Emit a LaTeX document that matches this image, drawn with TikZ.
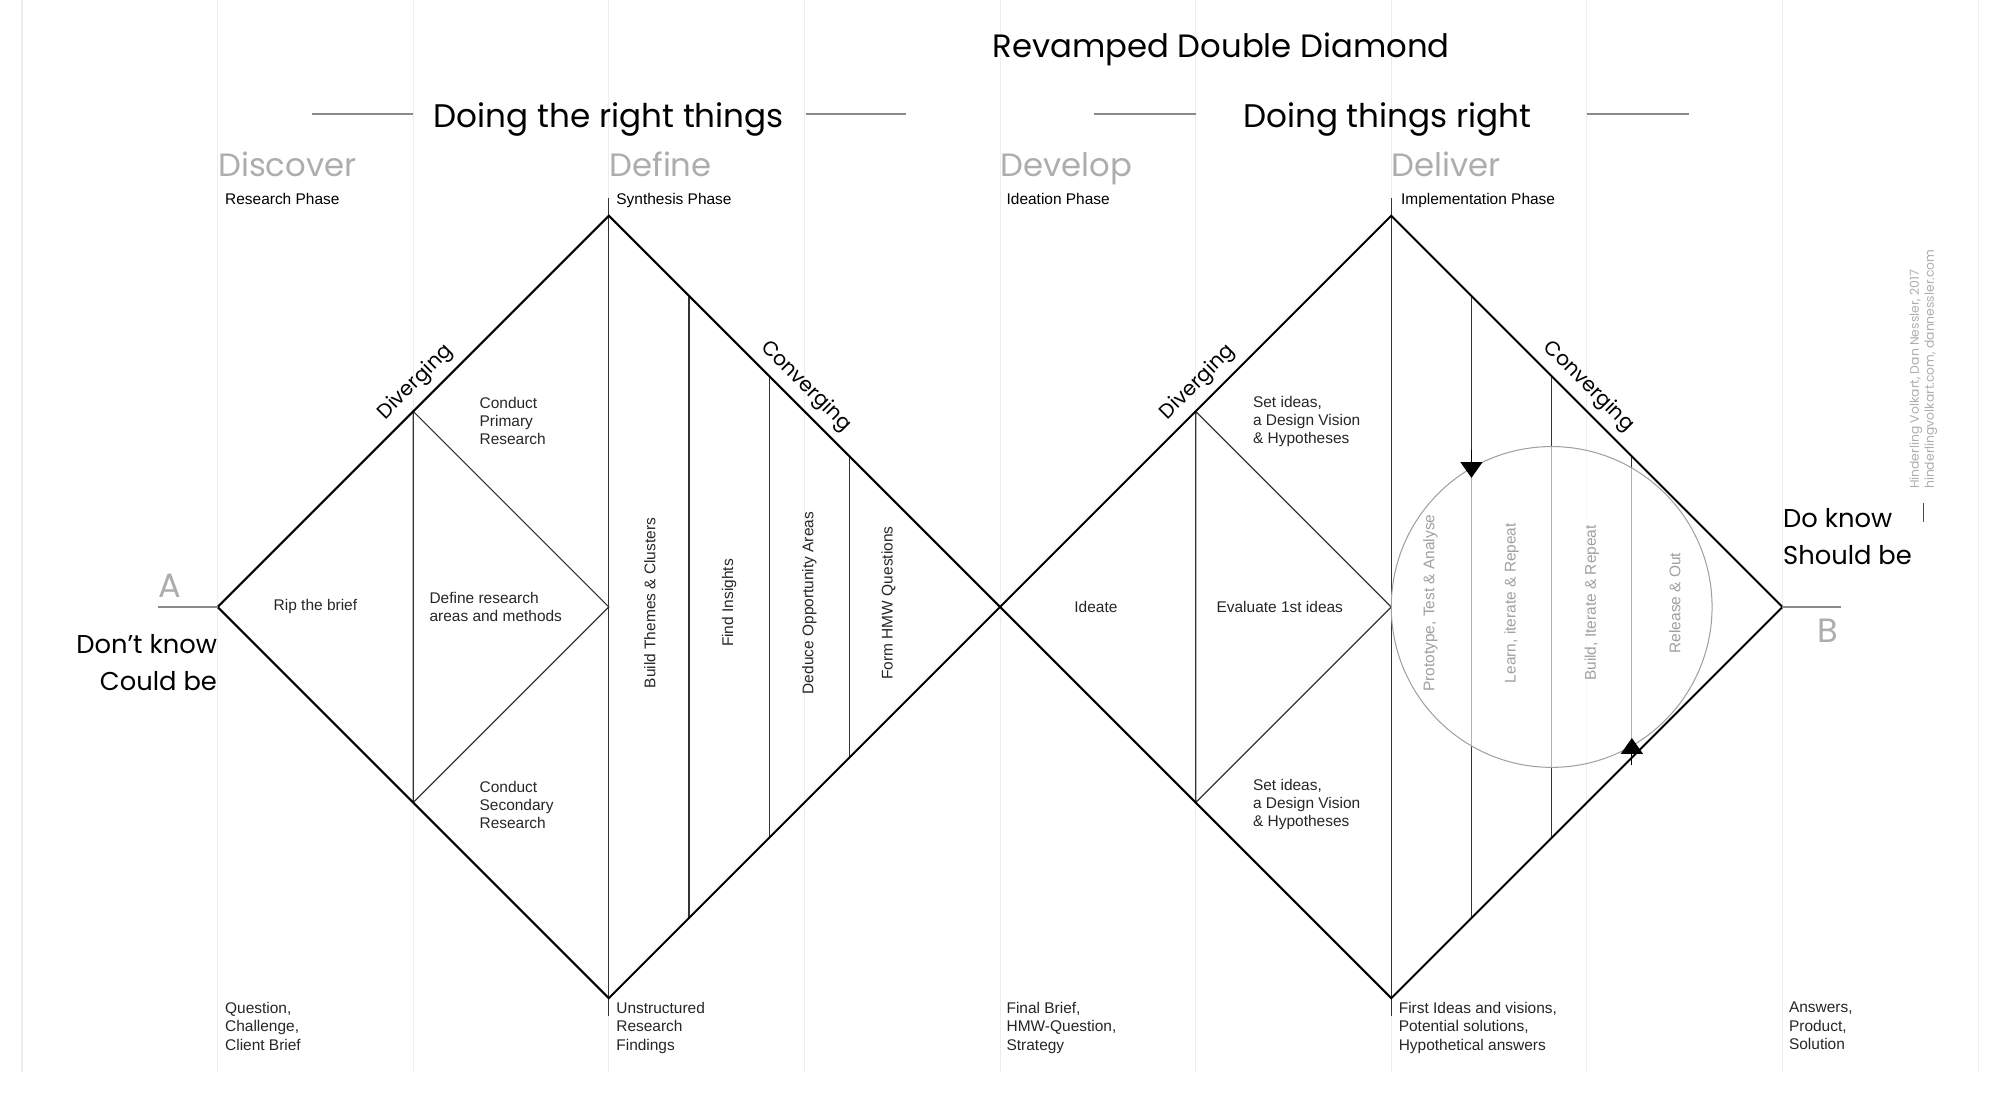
\documentclass[tikz,border=0pt]{standalone}
\usepackage{fontspec}
\setmainfont{Liberation Sans}
\newfontfamily\headfont{Poppins}
\usetikzlibrary{arrows.meta}

\definecolor{gridgrey}{HTML}{EDEDED}
\definecolor{headgrey}{HTML}{ADADAD}
\definecolor{rulegrey}{HTML}{8A8A8A}
\definecolor{loopgrey}{HTML}{A0A0A0}

\begin{document}
\begin{tikzpicture}[x=2cm, y=2cm, >={Triangle[length=4.6pt, width=6.4pt]},
    colline/.style={draw=gridgrey, line width=0.3pt},
    outline/.style={draw=black, line width=0.6pt},
    thinline/.style={draw=black!80, line width=0.35pt},
    headrule/.style={draw=rulegrey, line width=0.55pt},
    title/.style={font=\headfont\fontsize{9.4}{12}\selectfont, anchor=base, inner sep=0},
    half/.style={font=\headfont\fontsize{9.5}{12}\selectfont, anchor=base, inner sep=0},
    phase/.style={font=\headfont\fontsize{9.4}{12}\selectfont, text=headgrey, anchor=base west, inner sep=0},
    sub/.style={font=\fontsize{4.5}{5.4}\selectfont, anchor=base west, inner sep=0},
    lbl/.style={font=\fontsize{4.5}{5.25}\selectfont, align=left, inner sep=0, text=black!85},
    vlbl/.style={lbl, rotate=90},
    clbl/.style={vlbl, text=loopgrey},
    foot/.style={font=\fontsize{4.5}{5.4}\selectfont, align=left, anchor=north west, inner sep=0, text=black!85},
    edgelbl/.style={font=\headfont\fontsize{5.9}{7}\selectfont, sloped, above, inner sep=2.2pt},
    state/.style={font=\headfont\fontsize{7.5}{10.8}\selectfont, inner sep=0},
    letter/.style={font=\headfont\fontsize{9.8}{12}\selectfont, text=headgrey, inner sep=0},
    credit/.style={font=\headfont\fontsize{3.6}{4.4}\selectfont, text=headgrey, align=left, rotate=90, anchor=west, inner sep=0}]

  \useasboundingbox (-0.1125,-2.485) rectangle (10.107,3.103);

  % column lines
  \foreach \i in {0,...,10}
    \draw[colline] (\i,3.103) -- (\i,-2.375);

  \coordinate (A)  at (1,0);
  \coordinate (T1) at (3,2);
  \coordinate (M)  at (5,0);
  \coordinate (B1) at (3,-2);
  \coordinate (T2) at (7,2);
  \coordinate (B)  at (9,0);
  \coordinate (B2) at (7,-2);

  % inner lines
  \draw[thinline] (2,1) -- (2,-1) (2,1) -- (3,0) -- (2,-1);
  \draw[thinline] (6,1) -- (6,-1) (6,1) -- (7,0) -- (6,-1);
  \draw[thinline] (3,2.09) -- (3,-2.09);
  \draw[thinline] (7,2.09) -- (7,-2.09);
  \foreach \x in {3.41,3.82,4.23}
    \draw[thinline] (\x,{5-\x}) -- (\x,{\x-5});
  \foreach \x in {7.41,7.82,8.23}
    \draw[thinline] (\x,{9-\x}) -- (\x,{\x-9});

  % the two diamonds
  \draw[outline] (A) -- (T1) -- (M) -- (B1) -- cycle;
  \draw[outline] (M) -- (T2) -- (B) -- (B2) -- cycle;
  \path (A) -- (T1) node[edgelbl, pos=0.54] {Diverging};
  \path (T1) -- (M) node[edgelbl, pos=0.47] {Converging};
  \path (M) -- (T2) node[edgelbl, pos=0.54] {Diverging};
  \path (T2) -- (B) node[edgelbl, pos=0.47] {Converging};

  % headings
  \node[title] (title) at (6.13,2.81) {Revamped Double Diamond};
  \node[half] (right1) at (3,2.45) {Doing the right things};
  \node[half] (right2) at (6.98,2.45) {Doing things right};
  \draw[headrule] (1.48,2.52) -- (2,2.52) (4.01,2.52) -- (4.52,2.52);
  \draw[headrule] (5.48,2.52) -- (6,2.52) (8,2.52) -- (8.52,2.52);

  \node[phase] (discover) at (1,2.2) {Discover};
  \node[phase] (define)   at (3,2.2) {Define};
  \node[phase] (develop)  at (5,2.2) {Develop};
  \node[phase] (deliver)  at (7,2.2) {Deliver};
  \node[sub] (research)  at (1.035,2.055) {Research Phase};
  \node[sub] (synthesis) at (3.035,2.055) {Synthesis Phase};
  \node[sub] (ideation)  at (5.03,2.055) {Ideation Phase};
  \node[sub] (implement) at (7.047,2.055) {Implementation Phase};

  % first diamond
  \node[lbl] (rip) at (1.5,0) {Rip the brief};
  \node[lbl, anchor=west] (areas) at (2.08,0) {Define research\\areas and methods};
  \node[lbl, anchor=west] (primary) at (2.336,0.95) {Conduct\\Primary\\Research};
  \node[lbl, anchor=west] (secondary) at (2.336,-1.01) {Conduct\\Secondary\\Research};
  \node[vlbl] (themes)   at (3.21,0.02) {Build Themes \& Clusters};
  \node[vlbl] (insights) at (3.615,0.02) {Find Insights};
  \node[vlbl] (deduce)   at (4.025,0.02) {Deduce Opportunity Areas};
  \node[vlbl] (hmw)      at (4.43,0.02) {Form HMW Questions};

  % second diamond
  \node[lbl] (ideate) at (5.49,0) {Ideate};
  \node[lbl] (evaluate) at (6.43,0) {Evaluate 1st ideas};
  \node[lbl, anchor=west] (setup) at (6.29,0.95) {Set ideas,\\a Design Vision\\\& Hypotheses};
  \node[lbl, anchor=west] (setdown) at (6.29,-1.01) {Set ideas,\\a Design Vision\\\& Hypotheses};

  % iteration loop
  \draw[draw=loopgrey, line width=0.3pt, fill=white, fill opacity=0.62] (7.82,0) circle (0.82);
  \node[clbl] (proto)   at (7.2,0.02) {Prototype, Test \& Analyse};
  \node[clbl] (learn)   at (7.615,0.02) {Learn, iterate \& Repeat};
  \node[clbl] (build)   at (8.025,0.02) {Build, Iterate \& Repeat};
  \node[clbl] (release) at (8.45,0.02) {Release \& Out};
  \coordinate (down0) at (7.41,0.8);
  \coordinate (down1) at (7.41,0.66);
  \coordinate (up0) at (8.23,-0.81);
  \coordinate (up1) at (8.23,-0.67);
  \path[->, line width=0.35pt]
        (down0) edge (down1)
        (up0)   edge (up1);

  % start and end
  \coordinate (Aend) at (0.696,0);
  \coordinate (Bend) at (9.3,0);
  \draw[headrule] (Aend) -- (A);
  \draw[headrule] (B) -- (Bend);
  \node[letter, anchor=base west] (a) at (0.696,0.05) {A};
  \node[letter, anchor=base east] (b) at (9.29,-0.18) {B};
  \node[state, align=right, anchor=east] (dontknow) at (1,-0.285) {Don’t know\\Could be};
  \node[state, align=left, anchor=west] (doknow) at (9,0.358) {Do know\\Should be};
  \coordinate (tick0) at (9.72,0.435);
  \coordinate (tick1) at (9.72,0.53);
  \draw[draw=black!70, line width=0.4pt] (tick0) -- (tick1);
  \node[credit] (credits) at (9.72,0.6) {Hinderling Volkart, Dan Nessler, 2017\\hinderlingvolkart.com, dannessler.com};

  % outcomes
  \node[foot] (brief)    at (1.035,-2.015) {Question,\\Challenge,\\Client Brief};
  \node[foot] (findings) at (3.035,-2.015) {Unstructured\\Research\\Findings};
  \node[foot] (strategy) at (5.03,-2.015) {Final Brief,\\HMW-Question,\\Strategy};
  \node[foot] (visions)  at (7.035,-2.015) {First Ideas and visions,\\Potential solutions,\\Hypothetical answers};
  \node[foot] (answers)  at (9.03,-2.015) {Answers,\\Product,\\Solution};
\end{tikzpicture}
\end{document}
